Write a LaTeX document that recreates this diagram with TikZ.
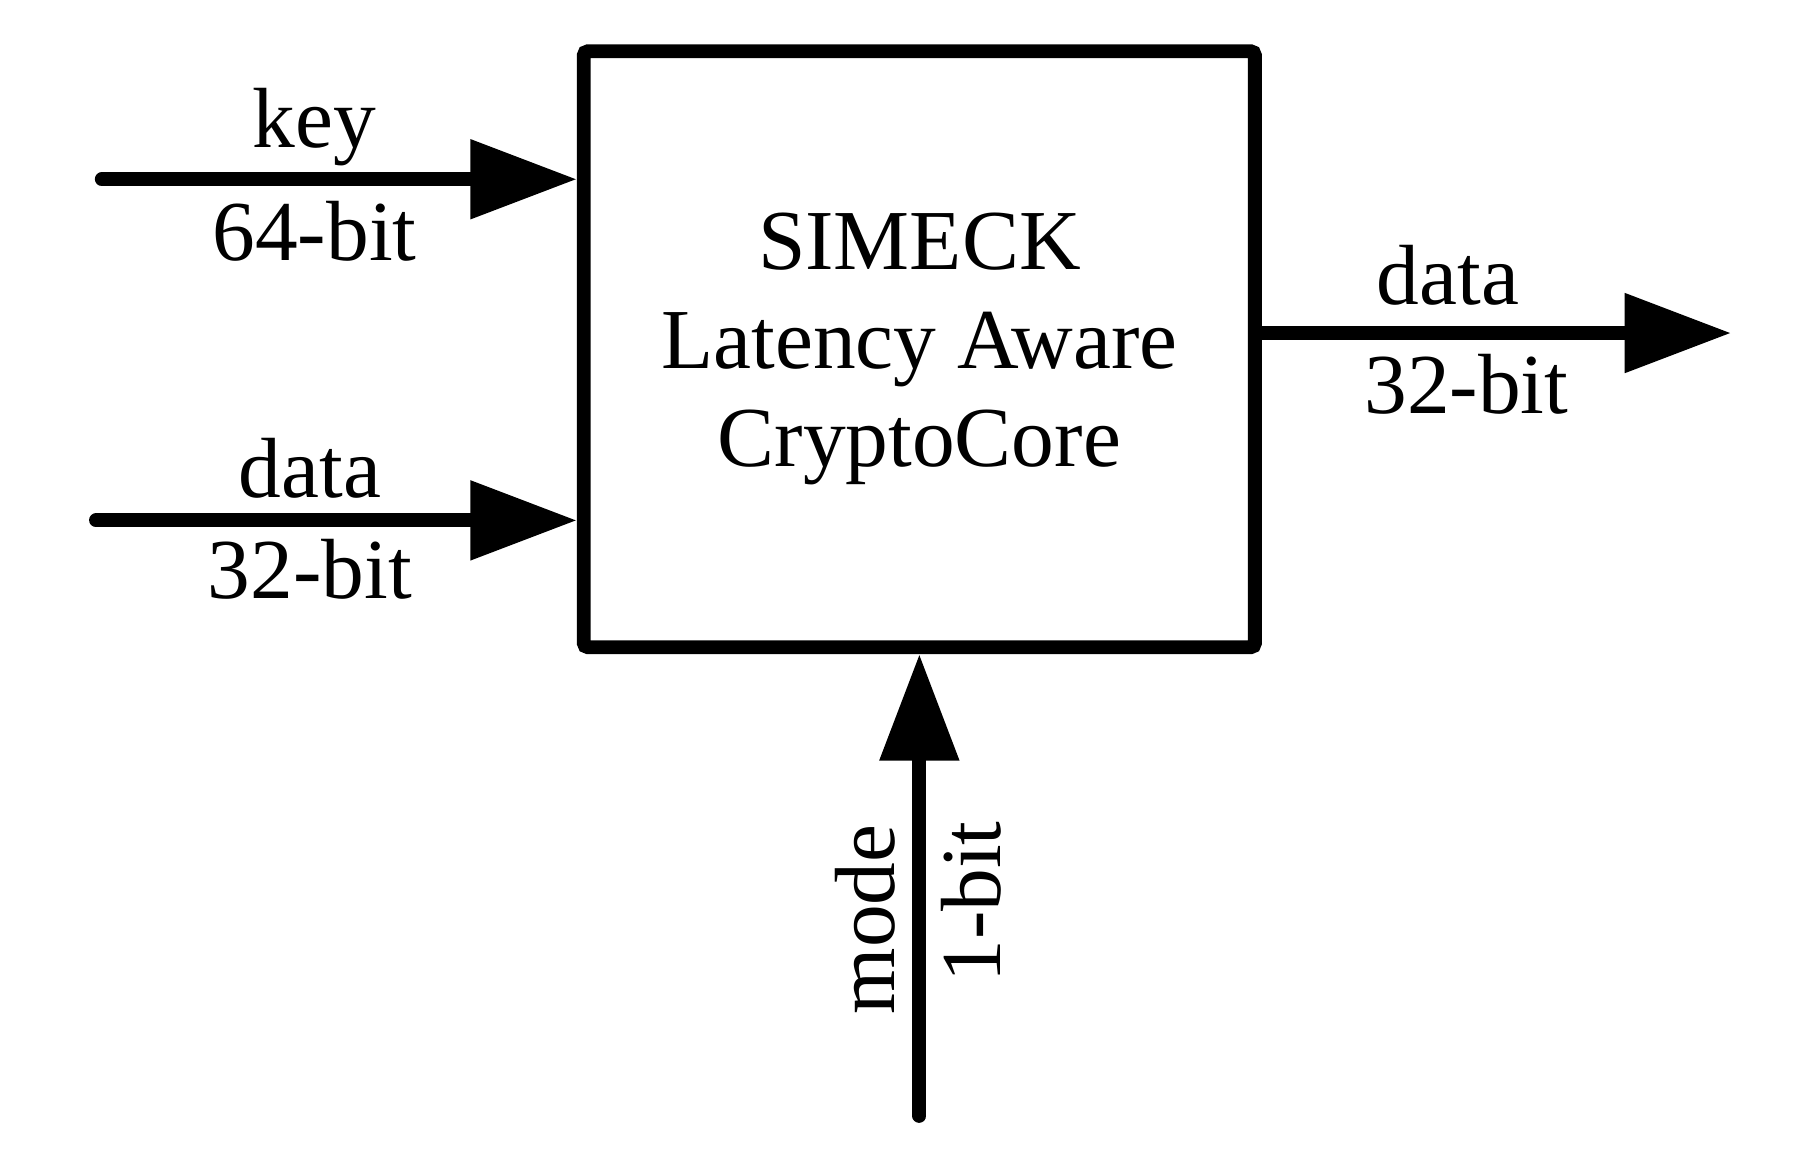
\documentclass[tikz,border=0pt]{standalone}
\usepackage{fontspec}
\setmainfont{Liberation Serif}
\usetikzlibrary{arrows.meta,positioning}
\begin{document}
\begin{tikzpicture}[x=0.01cm,y=-0.01cm,
    font=\fontsize{21}{24}\selectfont,
    bus/.style={line width=3.4pt,line cap=round,-{Triangle[length=0.92cm,width=0.66cm]}},
    lbl/.style={inner sep=0pt}]
  \useasboundingbox (0,0) rectangle (1560,997);
  % the core block
  \node[draw,line width=3.4pt,rounded corners=1pt,minimum width=5.8cm,minimum height=5.15cm,
        align=center,font=\fontsize{21}{24.2}\selectfont,inner sep=0pt] (core) at (795,302)
        {SIMECK\\Latency Aware\\CryptoCore};
  % free ends of the buses
  \coordinate (keyin) at (88,155);
  \coordinate (datain) at (83,450);
  \coordinate (dataout) at (1497,288);
  \coordinate (modein) at (795,965);
  % inputs and output
  \draw[bus] (keyin) -- (keyin -| core.west);
  \draw[bus] (datain) -- (datain -| core.west);
  \draw[bus] (dataout -| core.east) -- (dataout);
  \draw[bus] (modein) -- (modein |- core.south);
  % labels
  \node[lbl] (keylbl) at (272,110) {key};
  \node[lbl] (keyw) at (272,200) {64-bit};
  \node[lbl] (datalbl) at (268,405) {data};
  \node[lbl] (dataw) at (268,492) {32-bit};
  \node[lbl] (outlbl) at (1252,238) {data};
  \node[lbl] (outw) at (1268,332) {32-bit};
  \node[lbl,rotate=90] (modelbl) at (748,795) {mode};
  \node[lbl,rotate=90] (modew) at (840,780) {1-bit};
\end{tikzpicture}
\end{document}
